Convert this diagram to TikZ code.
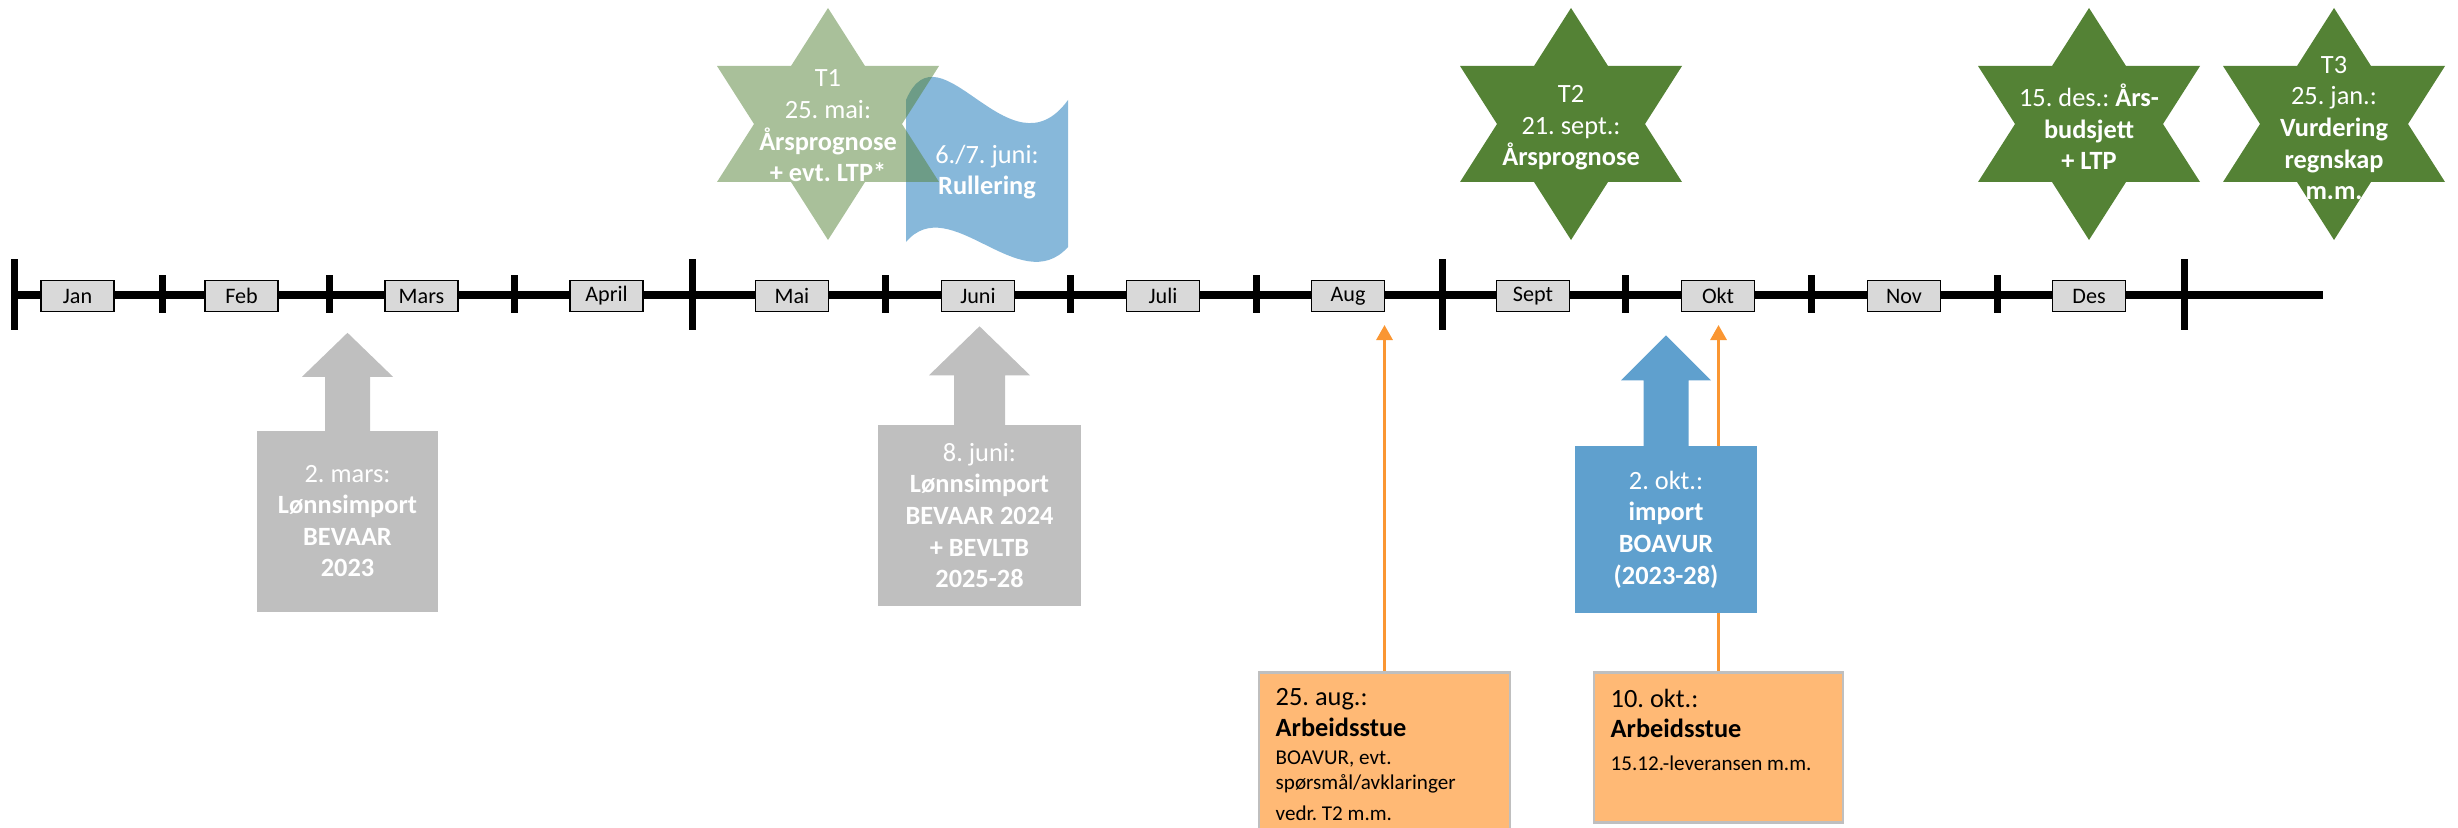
\documentclass[tikz,border=0pt]{standalone}
\usepackage{fontspec}
\setmainfont{Carlito}
\usetikzlibrary{arrows.meta}
\definecolor{greenstar}{RGB}{84,130,53}
\definecolor{wavecol}{RGB}{95,160,206}
\definecolor{calloutgray}{RGB}{191,191,191}
\definecolor{calloutblue}{RGB}{95,160,206}
\definecolor{monthfill}{RGB}{217,217,217}
\definecolor{orangeline}{RGB}{250,150,50}
\definecolor{orangefill}{RGB}{255,185,117}
\definecolor{boxborder}{RGB}{191,191,191}
\frenchspacing
\begin{document}
\begin{tikzpicture}[x=0.1mm,y=-0.1mm,
  startext/.style={text=white, align=center, inner sep=0pt, font=\fontsize{7.5}{9}\selectfont},
  month/.style={draw=black, line width=0.15mm, fill=monthfill, minimum width=7.3mm, minimum height=3.1mm, inner sep=0pt, font=\fontsize{6.3}{7}\selectfont},
  bigtick/.style={line width=0.7mm},
  smalltick/.style={line width=0.7mm},
  callgray/.style={fill=calloutgray, text=white, align=center, inner sep=0pt, font=\fontsize{7.5}{9}\selectfont},
  callblue/.style={fill=calloutblue, text=white, align=center, inner sep=0pt, font=\fontsize{7.5}{9}\selectfont},
  obox/.style={fill=orangefill, draw=boxborder, line width=0.25mm, inner sep=0pt},
  otext/.style={anchor=north west, inner sep=0pt, text width=23mm, align=flush left, font=\fontsize{7.5}{8.8}\selectfont},
  oarrow/.style={draw=orangeline, line width=0.3mm, -{Triangle[width=1.6mm,length=1.5mm]}},
  pics/hexstar/.style={code={\path[pic actions] (0,-116) -- (37,-58) -- (111,-58) -- (74,0) -- (111,58) -- (37,58) -- (0,116) -- (-37,58) -- (-111,58) -- (-74,0) -- (-111,-58) -- (-37,-58) -- cycle;}}
]
\useasboundingbox (0,0) rectangle (2458,828);

% timeline
\draw[line width=0.8mm] (14,294.5) -- (2323,294.5);
\foreach \x in {14,692,1442,2184} \draw[bigtick] (\x,259) -- (\x,330);
\foreach \x in {162,329,514,885,1070,1256,1625,1811,1997} \draw[smalltick] (\x,275) -- (\x,313);
\node[month] (jan) at (77.5,296) {Jan};
\node[month] (feb) at (241.5,296) {Feb};
\node[month] (mar) at (421.5,296) {Mars};
\node[month] (apr) at (606.5,296) {April};
\node[month] (mai) at (792,296) {Mai};
\node[month] (jun) at (978,296) {Juni};
\node[month] (jul) at (1163,296) {Juli};
\node[month] (aug) at (1348,296) {Aug};
\node[month] (sep) at (1533,296) {Sept};
\node[month] (okt) at (1718,296) {Okt};
\node[month] (nov) at (1904,296) {Nov};
\node[month] (des) at (2089,296) {Des};

% orange boxes and arrows
\node[obox, minimum width=25.1mm, minimum height=16.2mm, anchor=north] (ob1) at (1384.5,671) {};
\node[obox, minimum width=24.9mm, minimum height=15mm, anchor=north] (ob2) at (1718.5,671) {};
\coordinate (a1) at (1384.5,325);
\coordinate (a2) at (1718.5,325);
\draw[oarrow] (ob1.north) -- (a1);
\draw[oarrow] (ob2.north) -- (a2);
\node[otext] (ot1) at (1275,688) {25. aug.:\\\textbf{Arbeidsstue}\par\vspace{0.2mm}\fontsize{6}{7.25}\selectfont BOAVUR, evt.\\spørsmål/avklaringer\\vedr. T2 m.m.};
\node[otext] (ot2) at (1610,688) {10. okt.:\\\textbf{Arbeidsstue}\par\vspace{0.2mm}\fontsize{6}{7.25}\selectfont 15.12.-leveransen m.m.};

% callouts
\node[callgray, minimum width=18.1mm, minimum height=18.1mm] (c1) at (347.5,521) {2. mars:\\\textbf{Lønnsimport}\\\textbf{BEVAAR}\\\textbf{2023}};
\fill[calloutgray] (c1.north) ++(-22.5,1) -- ++(0,-54) -- ++(-23,0) -- ++(45.5,-44) -- ++(45.5,44) -- ++(-23,0) -- ++(0,54) -- cycle;
\node[callgray, minimum width=20.3mm, minimum height=18.1mm] (c2) at (979.5,515.5) {8. juni:\\\textbf{Lønnsimport}\\\textbf{BEVAAR 2024}\\\textbf{+ BEVLTB}\\\textbf{2025-28}};
\fill[calloutgray] (c2.north) ++(-25.5,1) -- ++(0,-50) -- ++(-25,0) -- ++(50.5,-49) -- ++(50.5,49) -- ++(-25,0) -- ++(0,50) -- cycle;
\node[callblue, minimum width=18.2mm, minimum height=16.7mm] (c3) at (1666,529.5) {2. okt.:\\\textbf{import}\\\textbf{BOAVUR}\\\textbf{(2023-28)}};
\fill[calloutblue] (c3.north) ++(-22.5,1) -- ++(0,-66) -- ++(-22.5,0) -- ++(45,-45) -- ++(45,45) -- ++(-22.5,0) -- ++(0,66) -- cycle;

% wave and stars
\fill[wavecol, fill opacity=0.75] (906,100) .. controls (940,20) and (1010,180) .. (1068,100) -- (1068,247) .. controls (1020,300) and (950,190) .. (906,242) -- cycle;
\pic[fill=greenstar, fill opacity=0.5] at (828,124) {hexstar};
\pic[fill=greenstar] at (1571,124) {hexstar};
\pic[fill=greenstar] at (2089,124) {hexstar};
\pic[fill=greenstar] at (2334,124) {hexstar};

\node[startext] (rul) at (987,172) {6./7. juni:\\\textbf{Rullering}};
\node[startext] (t1) at (828,126) {T1\\25. mai:\\\textbf{Årsprognose}\\\textbf{+ evt. LTP*}};
\node[startext] (t2) at (1571,128) {T2\\21. sept.:\\\textbf{Årsprognose}};
\node[startext] (t4) at (2089,127) {15. des.: \textbf{Års-}\\\textbf{budsjett}\\\textbf{+ LTP}};
\node[startext] (t3) at (2334,128) {T3\\25. jan.:\\\textbf{Vurdering}\\\textbf{regnskap}\\\textbf{m.m.}};
\end{tikzpicture}
\end{document}
